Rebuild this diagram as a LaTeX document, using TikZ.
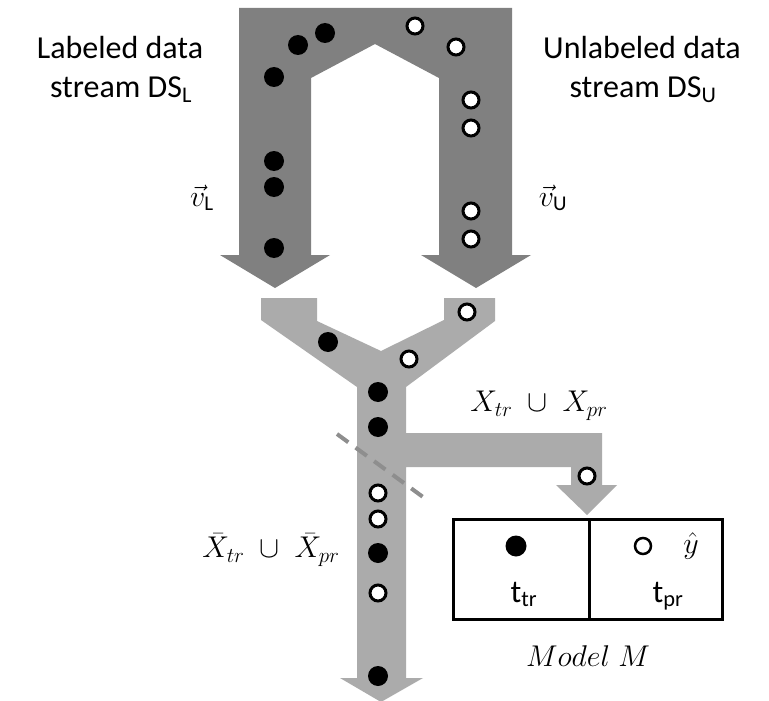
\RequirePackage{fix-cm}
\documentclass[tikz,border=0pt]{standalone}
\usepackage{amsmath}
\usepackage{fontspec}
\setmainfont{Carlito}
\definecolor{archgray}{HTML}{808080}
\definecolor{ygray}{HTML}{ABABAB}
\definecolor{dashgray}{HTML}{8E8E8E}
\tikzset{
  blackdot/.style={circle,fill=black,inner sep=0pt,outer sep=0pt,minimum size=20pt},
  whitedot/.style={circle,draw=black,fill=white,line width=3pt,inner sep=0pt,minimum size=16pt},
  smallwhite/.style={circle,draw=black,fill=white,line width=2.5pt,inner sep=0pt,minimum size=16pt},
  txt/.style={font=\fontsize{32}{39}\selectfont,inner sep=0pt,anchor=base},
  mth/.style={font=\fontsize{30}{36}\selectfont,inner sep=0pt},
  modelbox/.style={draw=black,line width=3pt},
}
\begin{document}
\begin{tikzpicture}[x=1pt,y=-1pt]
\useasboundingbox (0,0) rectangle (769,701);
\clip (0,0) rectangle (769,701);
\fill[white] (0,0) rectangle (769,701);
% upper arch
\fill[archgray] (239,8) -- (512,8) -- (512,255) -- (531,255) -- (476,288) -- (421,255) -- (439,255)
  -- (439,78) -- (375,44) -- (311,78) -- (311,255) -- (330,255) -- (275,288) -- (220,255)
  -- (239,255) -- cycle;
% lower Y
\fill[ygray] (261,298) -- (317,298) -- (317,321) -- (381,351) -- (444,320) -- (444,298)
  -- (495,298) -- (495,321) -- (406,387) -- (406,433) -- (602,433) -- (602,485) -- (617,485)
  -- (587,515) -- (556,485) -- (571,485) -- (571,467) -- (406,467) -- (406,678) -- (423,678)
  -- (381,702) -- (340,678) -- (357,678) -- (357,387) -- (261,320) -- cycle;
% dashed cut
\coordinate (c1) at (337,434);
\coordinate (c2) at (423,497);
\draw[dashgray,line width=4pt,dash pattern=on 14pt off 9pt] (c1) -- (c2);
% dots upper left
\node[blackdot] (a1) at (325,33) {};
\node[blackdot] (a2) at (298,45) {};
\node[blackdot] (a3) at (274,77) {};
\node[blackdot] (a4) at (274,161) {};
\node[blackdot] (a5) at (274,187) {};
\node[blackdot] (a6) at (274,248) {};
% dots upper right
\node[whitedot] (b1) at (415,26) {};
\node[whitedot] (b2) at (456,47) {};
\node[whitedot] (b3) at (471,100) {};
\node[whitedot] (b4) at (471,128) {};
\node[whitedot] (b5) at (471,211) {};
\node[whitedot] (b6) at (471,239) {};
% dots lower Y
\node[blackdot] (y1) at (328,342) {};
\node[whitedot] (y2) at (467,312) {};
\node[whitedot] (y3) at (409,359) {};
\node[blackdot] (y4) at (378,392) {};
\node[blackdot] (y5) at (378,427) {};
\node[whitedot] (y6) at (378,493) {};
\node[whitedot] (y7) at (378,519) {};
\node[blackdot] (y8) at (378,553) {};
\node[whitedot] (y9) at (378,593) {};
\node[blackdot] (y10) at (378,676) {};
\node[whitedot] (y11) at (587,476) {};
% model box
\node[modelbox,minimum width=136pt,minimum height=100pt,inner sep=0pt,anchor=north west] (ttr) at (452,518) {};
\node[modelbox,minimum width=133pt,minimum height=100pt,inner sep=0pt,anchor=north west] (tpr) at (588,518) {};
\node[blackdot,minimum size=21pt] (m1) at (516,546) {};
\node[smallwhite] (m2) at (643,546) {};
\node[mth] (yhat) at (691,546) {$\hat{y}$};
\node[txt] (ttrl) at (524,602) {t\textsubscript{tr}};
\node[txt] (tprl) at (668,602) {t\textsubscript{pr}};
\node[mth] (model) at (588,656) {$Model\;M$};
% labels
\node[txt] (lab1) at (120,59) {Labeled data};
\node[txt] (lab2) at (121,98) {stream DS\textsubscript{L}};
\node[txt] (ulab1) at (642,59) {Unlabeled data};
\node[txt] (ulab2) at (643,98) {stream DS\textsubscript{U}};
\node[mth] (vl) at (202,198) {$\vec{v}_{\text{L}}$};
\node[mth] (vu) at (553,198) {$\vec{v}_{\text{U}}$};
\node[mth] (xs) at (539,406) {$X_{tr}\;\cup\;X_{pr}$};
\node[mth] (xb) at (271,550) {$\bar{X}_{tr}\;\cup\;\bar{X}_{pr}$};
\end{tikzpicture}
\end{document}
